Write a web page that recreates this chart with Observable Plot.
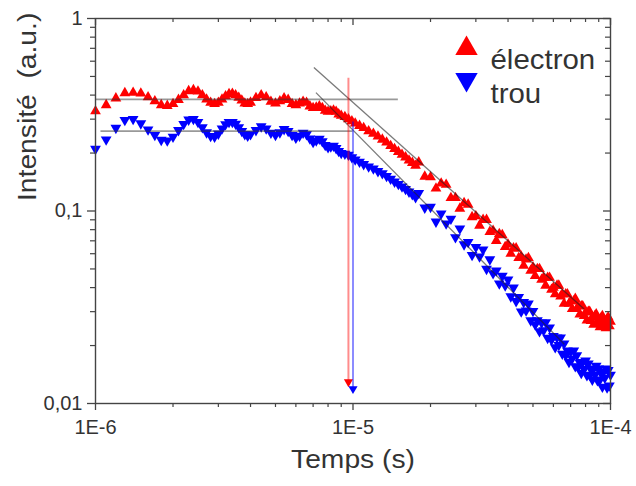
<!DOCTYPE html>
<html><head><meta charset="utf-8">
<script src="https://cdn.jsdelivr.net/npm/d3@7"></script>
<script src="https://cdn.jsdelivr.net/npm/@observablehq/plot@0.6"></script>
<style>
body{margin:0;background:#fff;}
#chart svg text{white-space:pre;}
</style>
</head><body><div id="chart"></div>
<script>
// Time (µs)
const timeUs = [
 1.0,1.1,1.2,1.3,1.4,1.5,1.6,1.7,1.8,1.9,
 2.0,2.1,2.2,2.3,2.4,2.5,2.6,2.7,2.8,2.9,
 3.0,3.1,3.2,3.3,3.4,3.5,3.6,3.7,3.8,3.9,
 4.0,4.2,4.4,4.6,4.8,5.0,5.2,5.4,5.6,5.8,
 6.0,6.2,6.4,6.6,6.8,7.0,7.2,7.4,7.6,7.8,
 8.0,8.2,8.4,8.6,8.8,9.0,9.3,9.6,9.9,10.2,
 10.6,11,11.5,12,12.5,13,13.5,14,14.5,15,
 15.5,16,16.5,17,17.5,
 18,19,20,21,22,23,24,25,26,27,
 28,29,30,31,32,33,34,35,36,37,
 38,39,40,41,42,43,44,45,46,47,
 48,49,50,51,52,53,54,55,56,57,
 58,59,60,61,62,63,64,65,66,67,
 68,69,70,71,72,73,74,75,76,77,
 78,79,80,81,82,83,84,85,86,87,
 88,89,90,91,92,93,94,95,96,97,
 98,99,100];
// électron intensity (a.u.)
const electron = [
 0.33,0.355,0.385,0.41,0.412,0.408,0.39,0.372,0.355,0.352,
 0.36,0.378,0.40,0.42,0.425,0.418,0.40,0.38,0.365,0.36,
 0.365,0.38,0.395,0.405,0.407,0.40,0.388,0.375,0.362,0.36,
 0.366,0.387,0.40,0.39,0.37,0.362,0.372,0.385,0.378,0.36,
 0.355,0.362,0.37,0.365,0.35,0.343,0.345,0.35,0.343,0.332,
 0.328,0.33,0.333,0.328,0.318,0.313,0.308,0.30,0.293,0.285,
 0.277,0.27,0.26,0.252,0.244,0.235,0.227,0.218,0.21,0.203,
 0.196,0.19,0.183,0.178,0.172,
 0.179,0.151,0.150,0.131,0.139,0.137,0.117,0.117,0.103,0.110,
 0.108,0.093,0.094,0.084,0.090,0.090,0.078,0.079,0.070,0.076,
 0.075,0.065,0.067,0.060,0.064,0.064,0.057,0.058,0.052,0.056,
 0.057,0.049,0.051,0.046,0.050,0.050,0.044,0.045,0.041,0.045,
 0.045,0.039,0.040,0.037,0.041,0.041,0.036,0.037,0.033,0.037,
 0.037,0.033,0.034,0.031,0.034,0.035,0.031,0.032,0.029,0.032,
 0.032,0.0285,0.0297,0.027,0.030,0.030,0.0269,0.0281,0.0257,0.0285,
 0.0291,0.0259,0.0272,0.0249,0.0278,0.0285,0.0254,0.0268,0.0246,0.0275,
 0.0281,0.0252,0.0266];
// trou intensity (a.u.)
const trou = [
 0.21,0.235,0.27,0.297,0.30,0.285,0.265,0.248,0.234,0.232,
 0.243,0.263,0.283,0.298,0.30,0.29,0.272,0.256,0.245,0.243,
 0.252,0.268,0.282,0.29,0.29,0.284,0.272,0.26,0.25,0.246,
 0.25,0.263,0.275,0.268,0.255,0.248,0.256,0.266,0.26,0.248,
 0.24,0.246,0.255,0.25,0.238,0.228,0.232,0.237,0.23,0.22,
 0.214,0.216,0.218,0.212,0.205,0.20,0.198,0.196,0.19,0.185,
 0.18,0.175,0.17,0.166,0.161,0.157,0.152,0.147,0.142,0.138,
 0.134,0.13,0.126,0.122,0.118,
 0.124,0.104,0.105,0.088,0.097,0.086,0.091,0.073,0.081,0.067,
 0.069,0.059,0.065,0.058,0.063,0.050,0.056,0.0475,0.049,0.042,
 0.046,0.041,0.044,0.036,0.040,0.034,0.0357,0.030,0.0336,0.0304,
 0.033,0.027,0.0302,0.0257,0.027,0.0237,0.0263,0.024,0.0264,0.0219,
 0.0248,0.0214,0.0224,0.0196,0.022,0.0201,0.022,0.0181,0.0205,0.0178,
 0.0188,0.0164,0.0186,0.0171,0.0188,0.0156,0.0178,0.0155,0.0163,0.0144,
 0.0164,0.0151,0.0167,0.014,0.0161,0.0141,0.015,0.0133,0.0152,0.0141,
 0.0157,0.0132,0.0152,0.0133,0.0143,0.0122,0.0146,0.0136,0.0152,0.0121,
 0.0149,0.0124,0.0141];

const seriesNames = ["électron", "trou"];
const seriesColors = ["#ff0000", "#0000ff"];

// Plateau guide lines (horizontal)
const plateauY = [0.38, 0.26];
const plateauX1 = [1.0e-6, 1.05e-6];
const plateauX2 = [1.5e-5, 1.0e-5];
// Power-law guide lines
const fitX1 = [7.05e-6, 7.18e-6];
const fitY1 = [0.556, 0.412];
const fitX2 = [7.9e-5, 6.62e-5];
const fitY2 = [0.031, 0.0203];
// Vertical arrows
const arrowX = [9.6e-6, 1.0e-5];
const arrowTop = [0.49, 0.29];
const arrowBottom = [0.0125, 0.0115];

// Axes
const xTicks = [1e-6, 1e-5, 1e-4];
const xTickLabels = ["1E-6", "1E-5", "1E-4"];
const yTicks = [0.01, 0.1, 1];
const yTickLabels = ["0,01", "0,1", "1"];
const xLabel = "Temps (s)";
const yLabel = "Intensité  (a.u.)";

const minorX = [];
for (let e = -6; e < -4; e++) for (let k = 2; k <= 9; k++) minorX.push(k * Math.pow(10, e));
const minorY = [];
for (let e = -2; e < 0; e++) for (let k = 2; k <= 9; k++) minorY.push(k * Math.pow(10, e));

const points = timeUs.map((t, i) => ({t: t * 1e-6, e: electron[i], h: trou[i]}));

const triDown = {
  draw(context, size) {
    const y = -Math.sqrt(size / (Math.sqrt(3) * 3));
    context.moveTo(0, -y * 2);
    context.lineTo(-Math.sqrt(3) * y, y);
    context.lineTo(Math.sqrt(3) * y, y);
    context.closePath();
  }
};

const W = 636, H = 486, mL = 95, mR = 26, mT = 18, mB = 83;
const pw = W - mL - mR, ph = H - mT - mB;
const axisColor = "#444";
const idx = [0, 1];

const marks = [
  Plot.dot(points, {x: "t", y: "e", symbol: "triangle", r: 4, fill: seriesColors[0]}),
  Plot.dot(points, {x: "t", y: "h", symbol: triDown, r: 4, fill: seriesColors[1]}),
  Plot.ruleY(idx, {y: i => plateauY[i], x1: i => plateauX1[i], x2: i => plateauX2[i], stroke: "#333", strokeOpacity: 0.5, strokeWidth: 1.6}),
  Plot.link(idx, {x1: i => fitX1[i], y1: i => fitY1[i], x2: i => fitX2[i], y2: i => fitY2[i], stroke: "#222", strokeOpacity: 0.6, strokeWidth: 1.3}),
];
idx.forEach(i => {
  marks.push(Plot.ruleX([i], {x: j => arrowX[j], y1: j => arrowTop[j], y2: j => arrowBottom[j], stroke: seriesColors[i], strokeOpacity: 0.45, strokeWidth: 2}));
  marks.push(Plot.dot([i], {x: j => arrowX[j], y: j => arrowBottom[j], symbol: triDown, r: 3.4, fill: seriesColors[i], dy: -3}));
});
marks.push(
  Plot.frame({stroke: axisColor, strokeWidth: 1.4}),
  Plot.axisX(xTicks, {anchor: "bottom", tickSize: 7, tickPadding: 9, tickFormat: d => xTickLabels[xTicks.indexOf(d)], fontSize: 20, label: null, color: "#333", stroke: axisColor, strokeWidth: 1.3}),
  Plot.axisX(minorX, {anchor: "bottom", tickSize: 4, tickFormat: () => "", label: null, stroke: axisColor, strokeWidth: 1.2}),
  Plot.axisY(yTicks, {anchor: "left", tickSize: 8, tickPadding: 5, tickFormat: d => yTickLabels[yTicks.indexOf(d)], fontSize: 20, label: null, color: "#333", stroke: axisColor, strokeWidth: 1.3}),
  Plot.axisY(minorY, {anchor: "left", tickSize: 5, tickFormat: () => "", label: null, stroke: axisColor, strokeWidth: 1.2}),
  Plot.tickX(xTicks, {x: d => d, insetBottom: ph - 7, stroke: axisColor, strokeWidth: 1.3}),
  Plot.tickX(minorX, {x: d => d, insetBottom: ph - 4, stroke: axisColor, strokeWidth: 1.2}),
  Plot.tickY(yTicks, {y: d => d, insetLeft: pw - 7, stroke: axisColor, strokeWidth: 1.3}),
  Plot.tickY(minorY, {y: d => d, insetLeft: pw - 5, stroke: axisColor, strokeWidth: 1.2}),
  Plot.text([yLabel], {frameAnchor: "left", dx: -68, dy: -10, rotate: -90, fontSize: 25, fill: "#333"}),
  Plot.text([xLabel], {frameAnchor: "bottom", dy: 64, fontSize: 25, fill: "#333"}),
  Plot.dot([0], {frameAnchor: "top-right", dx: -144, dy: 30, symbol: "triangle", r: 8.3, fill: seriesColors[0]}),
  Plot.dot([0], {frameAnchor: "top-right", dx: -144, dy: 61, symbol: triDown, r: 8.3, fill: seriesColors[1]}),
  Plot.text([seriesNames[0]], {frameAnchor: "top-right", dx: -120, dy: 31, textAnchor: "start", fontSize: 27, fill: "#333"}),
  Plot.text([seriesNames[1]], {frameAnchor: "top-right", dx: -120, dy: 65, textAnchor: "start", fontSize: 27, fill: "#333"})
);

const chart = Plot.plot({
  width: W, height: H,
  marginLeft: mL, marginRight: mR, marginTop: mT, marginBottom: mB,
  x: {type: "log", domain: [1e-6, 1e-4]},
  y: {type: "log", domain: [0.01, 1]},
  style: {fontFamily: "'Liberation Sans', Arial, sans-serif", fontSize: "19px", background: "#fff"},
  marks
});
document.getElementById("chart").appendChild(chart);

// Widen the title and legend lettering to match the reference typeface
function stretch(label, s) {
  chart.querySelectorAll("text").forEach(t => {
    if (t.textContent === label) {
      const x = +t.getAttribute("x") || 0, y = +t.getAttribute("y") || 0;
      const tr = t.getAttribute("transform") || "";
      t.setAttribute("transform", `${tr} translate(${x},${y}) scale(${s},1) translate(${-x},${-y})`);
    }
  });
}
stretch(xLabel, 1.13);
stretch(yLabel, 1.13);
stretch(seriesNames[0], 1.09);
stretch(seriesNames[1], 1.09);
</script>
</body></html>
